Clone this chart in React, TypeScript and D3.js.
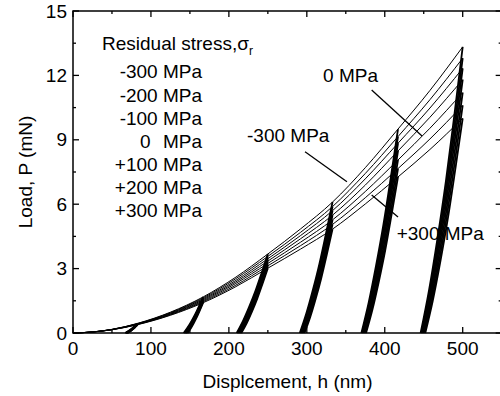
import React from "react";
import * as d3 from "d3";

// ---- data ----
const STRESS_LABELS = ["-300 MPa", "-200 MPa", "-100 MPa", "0", "+100 MPa", "+200 MPa", "+300 MPa"];
const H_LOAD = [0, 25, 50, 83, 125, 167, 208, 250, 292, 333, 375, 417, 458, 500];
const P_M300 = [0, 0.05, 0.17, 0.45, 0.97, 1.68, 2.58, 3.68, 4.85, 6.1, 7.7, 9.5, 11.3, 13.33];
const P_M200 = [0, 0.049, 0.167, 0.44, 0.946, 1.635, 2.51, 3.57, 4.69, 5.89, 7.43, 9.15, 10.87, 12.8];
const P_M100 = [0, 0.048, 0.163, 0.43, 0.922, 1.59, 2.43, 3.46, 4.54, 5.7, 7.18, 8.84, 10.48, 12.33];
const P_0 = [0, 0.047, 0.16, 0.42, 0.897, 1.546, 2.36, 3.35, 4.39, 5.49, 6.89, 8.48, 10.05, 11.8];
const P_P100 = [0, 0.046, 0.156, 0.41, 0.873, 1.5, 2.29, 3.24, 4.23, 5.27, 6.59, 8.06, 9.54, 11.2];
const P_P200 = [0, 0.045, 0.153, 0.4, 0.849, 1.457, 2.21, 3.13, 4.07, 5.06, 6.3, 7.66, 9.04, 10.6];
const P_P300 = [0, 0.044, 0.15, 0.39, 0.825, 1.411, 2.14, 3.02, 3.91, 4.84, 6.01, 7.27, 8.55, 10.0];
const LOAD_SERIES = [P_M300, P_M200, P_M100, P_0, P_P100, P_P200, P_P300];

// maximum depths of the six indents (values of H_LOAD)
const H_MAX = [83, 167, 250, 333, 417, 500];
// residual depths after unloading, per stress
const HF_M300 = [67, 142, 210, 291, 370, 446];
const HF_M200 = [67.5, 143, 211, 292, 371, 447];
const HF_M100 = [68, 144, 212, 293, 372, 448];
const HF_0 = [68.5, 144.5, 213, 294, 373, 449];
const HF_P100 = [69, 145, 214, 295, 374, 450];
const HF_P200 = [69.5, 146, 215, 296, 375, 451];
const HF_P300 = [70, 147, 216, 297, 376, 452];
const HF_SERIES = [HF_M300, HF_M200, HF_M100, HF_0, HF_P100, HF_P200, HF_P300];
// unloading shape (fraction of depth range vs fraction of max load)
const UNLOAD_SHAPE_H = [0, 0.2, 0.4, 0.6, 0.8, 1];
const UNLOAD_SHAPE_P = [0, 0.15, 0.33, 0.53, 0.76, 1];

const X_TICKS = [0, 100, 200, 300, 400, 500];
const Y_TICKS = [0, 3, 6, 9, 12, 15];

export default function App() {
  const W = 500, H = 396;
  const x = d3.scaleLinear().domain([0, 550]).range([73, 73 + 550 * 0.7794]);
  const y = d3.scaleLinear().domain([0, 15]).range([333, 11]);
  const font = "'Liberation Sans', Arial, Helvetica, sans-serif";
  const fs = 19;

  const line = d3
    .line<[number, number]>()
    .x((d) => x(d[0]))
    .y((d) => y(d[1]))
    .curve(d3.curveMonotoneX);

  const loadPaths = LOAD_SERIES.map((ps) =>
    line(H_LOAD.map((h, i) => [h, ps[i]] as [number, number]))
  );

  const unloadPaths: string[] = [];
  LOAD_SERIES.forEach((ps, si) => {
    H_MAX.forEach((hm, k) => {
      const idx = H_LOAD.indexOf(hm);
      const pm = ps[idx];
      const hf = HF_SERIES[si][k];
      const pts = UNLOAD_SHAPE_H.map(
        (fh, j) => [hf + fh * (hm - hf), UNLOAD_SHAPE_P[j] * pm] as [number, number]
      );
      unloadPaths.push(line(pts) as string);
    });
  });

  const xMinor = d3.range(50, 551, 100);
  const yMinor = d3.range(1.5, 15, 3);
  const x0 = x(0), x1 = x(550), y0 = y(0), y1 = y(15);

  const legendY = [71.7, 95, 118.3, 141.7, 164, 187, 210];

  return (
    <svg
      width={W}
      height={H}
      style={{ position: "absolute", left: 0, top: 0, background: "#fff" }}
      fontFamily={font}
    >
      <rect x={0} y={0} width={W} height={H} fill="#fff" />
      {/* curves */}
      <g fill="none" stroke="#000">
        {loadPaths.map((p, i) => (
          <path key={"l" + i} d={p as string} strokeWidth={1} />
        ))}
        {unloadPaths.map((p, i) => (
          <path key={"u" + i} d={p} strokeWidth={1.8} />
        ))}
      </g>
      {/* frame */}
      <rect x={x0} y={y1} width={x1 - x0} height={y0 - y1} fill="none" stroke="#000" strokeWidth={1.5} />
      {/* ticks */}
      <g stroke="#000" strokeWidth={1.3}>
        {X_TICKS.map((t) => (
          <g key={"xt" + t}>
            <line x1={x(t)} x2={x(t)} y1={y0} y2={y0 - 6} />
            <line x1={x(t)} x2={x(t)} y1={y1} y2={y1 + 6} />
          </g>
        ))}
        {xMinor.map((t) => (
          <g key={"xm" + t}>
            <line x1={x(t)} x2={x(t)} y1={y0} y2={y0 - 3} />
            <line x1={x(t)} x2={x(t)} y1={y1} y2={y1 + 3} />
          </g>
        ))}
        {Y_TICKS.map((t) => (
          <g key={"yt" + t}>
            <line x1={x0} x2={x0 + 6} y1={y(t)} y2={y(t)} />
            <line x1={x1} x2={x1 - 6} y1={y(t)} y2={y(t)} />
          </g>
        ))}
        {yMinor.map((t) => (
          <g key={"ym" + t}>
            <line x1={x0} x2={x0 + 3} y1={y(t)} y2={y(t)} />
            <line x1={x1} x2={x1 - 3} y1={y(t)} y2={y(t)} />
          </g>
        ))}
      </g>
      {/* tick labels */}
      <g fontSize={fs} fill="#000">
        {X_TICKS.map((t) => (
          <text key={"xl" + t} x={x(t)} y={y0 + 22} textAnchor="middle">
            {t}
          </text>
        ))}
        {Y_TICKS.map((t) => (
          <text key={"yl" + t} x={x0 - 6} y={y(t)} dy="0.35em" textAnchor="end">
            {t}
          </text>
        ))}
      </g>
      {/* axis titles */}
      <text x={(x0 + 462) / 2 + 20} y={388} fontSize={fs} textAnchor="middle">
        Displcement, h (nm)
      </text>
      <text
        transform={`translate(32, ${(y0 + y1) / 2}) rotate(-90)`}
        fontSize={fs}
        textAnchor="middle"
      >
        Load, P (mN)
      </text>
      {/* legend */}
      <g fontSize={fs}>
        <text x={102} y={43} dy="0.35em">
          Residual stress,σ
          <tspan fontSize={12} dy="5">r</tspan>
        </text>
        {STRESS_LABELS.map((s, i) =>
          s === "0" ? (
            <g key={"lg" + i}>
              <text x={140} y={legendY[i]} dy="0.35em">0</text>
              <text x={202} y={legendY[i]} dy="0.35em" textAnchor="end">MPa</text>
            </g>
          ) : (
            <text key={"lg" + i} x={202} y={legendY[i]} dy="0.35em" textAnchor="end">
              {s}
            </text>
          )
        )}
      </g>
      {/* annotations */}
      <g fontSize={fs}>
        <text x={x(320.8)} y={y(12.02)} dy="0.35em">0 MPa</text>
        <text x={x(223.3)} y={y(9.22)} dy="0.35em">-300 MPa</text>
        <text x={x(415.3)} y={y(4.66)} dy="0.35em">+300 MPa</text>
      </g>
      <g stroke="#000" strokeWidth={1.3}>
        <line x1={x(383.2)} y1={y(11.32)} x2={x(447.8)} y2={y(9.18)} />
        <line x1={x(297.7)} y1={y(8.44)} x2={x(351.5)} y2={y(7.05)} />
        <line x1={x(383.2)} y1={y(6.43)} x2={x(417)} y2={y(5.4)} />
      </g>
    </svg>
  );
}
